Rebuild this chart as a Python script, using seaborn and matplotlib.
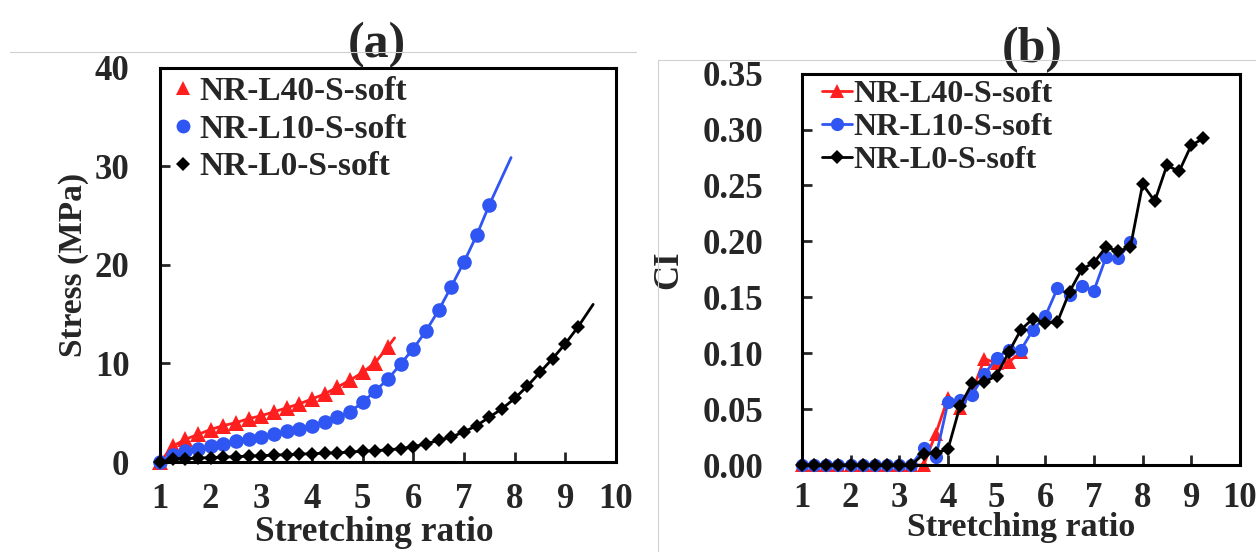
import matplotlib
matplotlib.use("Agg")
import matplotlib.pyplot as plt
import pandas as pd
import seaborn as sns
from matplotlib.lines import Line2D

# ---------------- data: panel (a) stress vs stretching ratio ----------------
ratio_l40_a = [1.0, 1.25, 1.5, 1.75, 2.0, 2.25, 2.5, 2.75, 3.0, 3.25, 3.5, 3.75, 4.0, 4.25,
               4.5, 4.75, 5.0, 5.25, 5.5, 5.63]
stress_l40 = [0, 1.6, 2.3, 2.8, 3.3, 3.7, 4.0, 4.4, 4.7, 5.1, 5.5, 5.9, 6.4, 6.9,
              7.6, 8.3, 9.1, 10.1, 11.7, 12.6]

ratio_l10_a = [1.0, 1.25, 1.5, 1.75, 2.0, 2.25, 2.5, 2.75, 3.0, 3.25, 3.5, 3.75, 4.0, 4.25,
               4.5, 4.75, 5.0, 5.25, 5.5, 5.75, 6.0, 6.25, 6.5, 6.75, 7.0, 7.25, 7.5, 7.93]
stress_l10 = [0, 0.7, 1.15, 1.35, 1.6, 1.85, 2.1, 2.35, 2.55, 2.85, 3.1, 3.4, 3.7, 4.05,
              4.55, 5.1, 6.05, 7.25, 8.4, 9.95, 11.5, 13.3, 15.4, 17.8, 20.3, 23.0, 26.1, 30.9]

ratio_l0_a = [1.0, 1.25, 1.5, 1.75, 2.0, 2.25, 2.5, 2.75, 3.0, 3.25, 3.5, 3.75, 4.0, 4.25,
              4.5, 4.75, 5.0, 5.25, 5.5, 5.75, 6.0, 6.25, 6.5, 6.75, 7.0, 7.25, 7.5, 7.75,
              8.0, 8.25, 8.5, 8.75, 9.0, 9.25, 9.55]
stress_l0 = [0, 0.3, 0.35, 0.4, 0.45, 0.5, 0.55, 0.6, 0.65, 0.7, 0.75, 0.8, 0.85, 0.9,
             0.95, 1.0, 1.1, 1.15, 1.25, 1.35, 1.55, 1.85, 2.2, 2.55, 3.05, 3.7, 4.55, 5.4,
             6.45, 7.7, 9.1, 10.5, 12.0, 13.7, 16.0]

# ---------------- data: panel (b) CI vs stretching ratio ----------------
ratio_l40_b = [1.0, 1.25, 1.5, 1.75, 2.0, 2.25, 2.5, 2.75, 3.0, 3.25, 3.5, 3.75, 4.0, 4.25,
               4.5, 4.75, 5.0, 5.25, 5.5]
ci_l40 = [0, 0, 0, 0, 0, 0, 0, 0, 0, 0, 0, 0.028, 0.06, 0.051, 0.066, 0.095, 0.091, 0.092, 0.101]

ratio_l10_b = [1.0, 1.25, 1.5, 1.75, 2.0, 2.25, 2.5, 2.75, 3.0, 3.25, 3.5, 3.75, 4.0, 4.25,
               4.5, 4.75, 5.0, 5.25, 5.5, 5.75, 6.0, 6.25, 6.5, 6.75, 7.0, 7.25, 7.5, 7.75]
ci_l10 = [0, 0, 0, 0, 0, 0, 0, 0, 0, 0, 0.015, 0.007, 0.056, 0.058, 0.063, 0.081, 0.096, 0.103,
          0.103, 0.121, 0.133, 0.158, 0.152, 0.160, 0.156, 0.186, 0.185, 0.199]

ratio_l0_b = [1.0, 1.25, 1.5, 1.75, 2.0, 2.25, 2.5, 2.75, 3.0, 3.25, 3.5, 3.75, 4.0, 4.25,
              4.5, 4.75, 5.0, 5.25, 5.5, 5.75, 6.0, 6.25, 6.5, 6.75, 7.0, 7.25, 7.5, 7.75,
              8.0, 8.25, 8.5, 8.75, 9.0, 9.25]
ci_l0 = [0, 0, 0, 0, 0, 0, 0, 0, 0, 0, 0.010, 0.011, 0.014, 0.053, 0.073, 0.074, 0.080, 0.101,
         0.121, 0.131, 0.127, 0.128, 0.155, 0.175, 0.181, 0.195, 0.191, 0.195, 0.251, 0.236,
         0.268, 0.2625, 0.286, 0.292]

labels = ["NR-L40-S-soft", "NR-L10-S-soft", "NR-L0-S-soft"]
colors = ["#ff1f1f", "#2f55f2", "#000000"]
markers = ["^", "o", "D"]
x_ticks = [1, 2, 3, 4, 5, 6, 7, 8, 9, 10]
stress_ticks = [0, 10, 20, 30, 40]
ci_ticks = [0.00, 0.05, 0.10, 0.15, 0.20, 0.25, 0.30, 0.35]

# ---------------- style ----------------
sns.set_theme(style="ticks")
plt.rcParams["font.family"] = ["Liberation Serif", "DejaVu Serif"]
plt.rcParams["font.weight"] = "bold"
plt.rcParams["axes.labelweight"] = "bold"
plt.rcParams["axes.titleweight"] = "bold"
plt.rcParams["mathtext.default"] = "regular"

fig = plt.figure(figsize=(12.56, 5.52), dpi=100)
ax_a = fig.add_axes([0.1274, 0.163, 0.3630, 0.714])
ax_b = fig.add_axes([0.6385, 0.1576, 0.3487, 0.709])

# light page-border artifacts from the source figure
fig.add_artist(Line2D([0.008, 0.506], [0.905, 0.905], transform=fig.transFigure,
                      color="#d0d0d0", lw=0.8))
fig.add_artist(Line2D([0.524, 1.0], [0.891, 0.891], transform=fig.transFigure,
                      color="#d0d0d0", lw=0.8))
fig.add_artist(Line2D([0.524, 0.524], [0.0, 0.891], transform=fig.transFigure,
                      color="#d0d0d0", lw=0.8))

# ---------------- panel (a) ----------------
series_a = [(ratio_l40_a, stress_l40, 11), (ratio_l10_a, stress_l10, 10.5), (ratio_l0_a, stress_l0, 7.5)]
for (xs, ys, ms), lab, col, mk in zip(series_a, labels, colors, markers):
    df = pd.DataFrame({"ratio": xs, "value": ys})
    sns.lineplot(data=df, x="ratio", y="value", ax=ax_a, color=col, marker=mk,
                 markersize=ms, markeredgewidth=0, linewidth=2.0, estimator=None,
                 sort=False, markevery=list(range(len(xs) - 1)), clip_on=False,
                 legend=False)

handles_a = [Line2D([], [], linestyle="", marker=mk, color=col, markersize=ms, markeredgewidth=0)
             for mk, col, ms in zip(markers, colors, [10, 10, 7])]
ax_a.legend(handles_a, labels, loc="upper left", frameon=False, fontsize=24,
            handlelength=0.6, handletextpad=0.2, labelspacing=0.2,
            borderaxespad=0.2, bbox_to_anchor=(-0.015, 1.03))

ax_a.set_xlim(1, 10)
ax_a.set_ylim(0, 40)
ax_a.set_xticks(x_ticks)
ax_a.set_yticks(stress_ticks)
ax_a.set_xlabel("Stretching ratio", fontsize=25.5, labelpad=0)
ax_a.xaxis.label.set_x(0.47)
ax_a.set_ylabel("Stress (MPa)", fontsize=24, labelpad=4)
ax_a.set_title("(a)", fontsize=36, pad=2, x=0.475)
ax_a.tick_params(axis="x", direction="in", length=7, width=2, labelsize=25, pad=15)
ax_a.tick_params(axis="y", direction="in", length=7, width=2, labelsize=25, pad=22)

# ---------------- panel (b) ----------------
series_b = [(ratio_l40_b, ci_l40, 10), (ratio_l10_b, ci_l10, 9.5), (ratio_l0_b, ci_l0, 7.5)]
for (xs, ys, ms), lab, col, mk in zip(series_b, labels, colors, markers):
    df = pd.DataFrame({"ratio": xs, "value": ys})
    sns.lineplot(data=df, x="ratio", y="value", ax=ax_b, color=col, marker=mk,
                 markersize=ms, markeredgewidth=0, linewidth=2.0, estimator=None,
                 sort=False, clip_on=False, label=lab)

ax_b.legend(loc="upper left", frameon=False, fontsize=23, handlelength=0.94,
            handletextpad=0.05, labelspacing=0.12, borderaxespad=0.15,
            bbox_to_anchor=(0.005, 1.03))

ax_b.set_xlim(1, 10)
ax_b.set_ylim(0, 0.35)
ax_b.set_xticks(x_ticks)
ax_b.set_yticks(ci_ticks)
ax_b.set_yticklabels([f"{t:.2f}" for t in ci_ticks])
ax_b.set_xlabel("Stretching ratio", fontsize=24.5, labelpad=-2)
ax_b.set_ylabel("CI", fontsize=25, labelpad=12)
ax_b.set_title("(b)", fontsize=36, pad=4, x=0.525)
ax_b.tick_params(axis="x", direction="in", length=7, width=2, labelsize=25, pad=12)
ax_b.tick_params(axis="y", direction="in", length=7, width=2, labelsize=25, pad=28)

for ax in (ax_a, ax_b):
    for sp in ax.spines.values():
        sp.set_visible(True)
        sp.set_color("black")
        sp.set_linewidth(2.2)
    ax.set_facecolor("white")

fig.savefig("out.png", dpi=100, facecolor="white")
